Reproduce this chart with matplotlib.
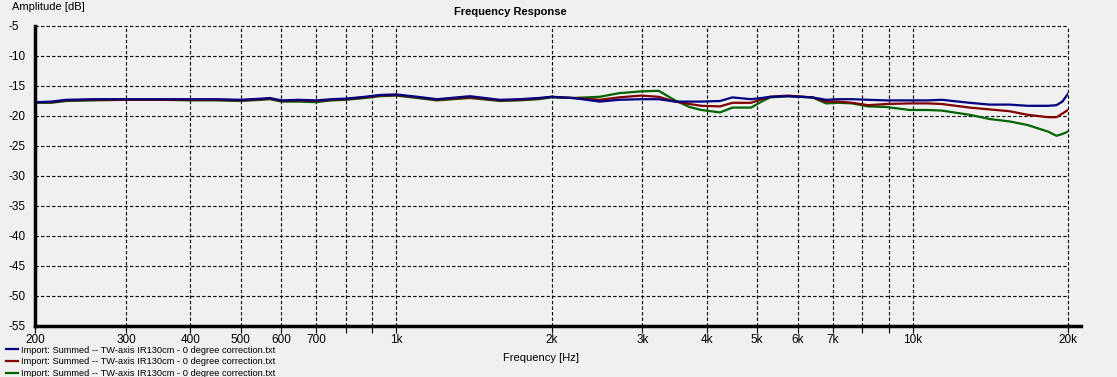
import numpy as np
import matplotlib
matplotlib.use("Agg")
import matplotlib.pyplot as plt
from matplotlib.lines import Line2D

plt.rcParams['font.family'] = ['Liberation Sans', 'DejaVu Sans']

# data (Hz, dB)
freqs = [200, 215, 230, 260, 300, 350, 400, 450, 500, 550, 570, 600, 650, 700,
         750, 800, 870, 930, 1000, 1100, 1200, 1390, 1590, 1730, 1890, 2000,
         2200, 2480, 2700, 2980, 3225, 3470, 3700, 3900, 4240, 4480, 4870,
         5100, 5300, 5730, 6400, 6800, 7200, 7640, 8200, 8900, 9880, 10700,
         11400, 12900, 14100, 15400, 16700, 18300, 19000, 19500, 20000]

blue = [-17.7, -17.6, -17.3, -17.2, -17.2, -17.2, -17.2, -17.2, -17.3, -17.1,
        -17.0, -17.4, -17.3, -17.4, -17.2, -17.1, -16.8, -16.5, -16.4, -16.8,
        -17.2, -16.7, -17.3, -17.2, -17.0, -16.8, -17.0, -17.6, -17.3, -17.2,
        -17.2, -17.6, -17.6, -17.6, -17.5, -16.9, -17.2, -17.0, -16.8, -16.7,
        -16.9, -17.3, -17.2, -17.2, -17.3, -17.4, -17.4, -17.4, -17.3, -17.8,
        -18.1, -18.1, -18.3, -18.3, -18.2, -17.6, -16.3]

red = [-17.7, -17.7, -17.4, -17.3, -17.3, -17.3, -17.3, -17.3, -17.4, -17.2,
       -17.1, -17.5, -17.4, -17.5, -17.3, -17.2, -16.9, -16.6, -16.5, -16.9,
       -17.3, -16.9, -17.4, -17.3, -17.1, -16.8, -17.0, -17.3, -16.9, -16.6,
       -16.8, -17.6, -18.0, -18.3, -18.4, -17.8, -17.8, -17.2, -16.8, -16.6,
       -16.9, -17.6, -17.6, -17.8, -18.2, -18.0, -17.9, -17.9, -18.0, -18.6,
       -18.9, -19.2, -19.8, -20.2, -20.2, -19.6, -19.0]

green = [-17.8, -17.8, -17.5, -17.4, -17.3, -17.3, -17.4, -17.4, -17.5, -17.3,
         -17.2, -17.6, -17.6, -17.7, -17.4, -17.3, -17.0, -16.7, -16.6, -17.0,
         -17.4, -17.0, -17.5, -17.4, -17.2, -16.9, -17.0, -16.8, -16.2, -15.9,
         -15.8, -17.4, -18.5, -19.0, -19.4, -18.6, -18.6, -17.6, -16.9, -16.7,
         -16.9, -17.9, -17.8, -17.9, -18.4, -18.5, -19.0, -19.0, -19.1, -19.8,
         -20.5, -20.9, -21.5, -22.6, -23.3, -23.0, -22.6]

grid_x = [200, 300, 400, 500, 600, 700, 800, 900, 1000, 2000, 3000, 4000, 5000,
          6000, 7000, 8000, 9000, 10000, 20000]
tick_labels = ['200', '300', '400', '500', '600', '700', '', '', '1k', '2k', '3k',
               '4k', '5k', '6k', '7k', '', '', '10k', '20k']
y_ticks = list(range(-55, 0, 5))
legend_label = 'Import: Summed -- TW-axis IR130cm - 0 degree correction.txt'

bg = '#f0f0f0'
fig = plt.figure(figsize=(11.17, 3.77), dpi=100, facecolor=bg)
ax = fig.add_axes([35/1117, 1-326/377, (1068-35)/1117, 300/377], facecolor=bg)

l1, = ax.plot(freqs, blue, color='#000080', lw=1.6)
l2, = ax.plot(freqs, red, color='#800000', lw=1.6)
l3, = ax.plot(freqs, green, color='#006400', lw=1.6)
# green under, blue on top, like the reference
l3.set_zorder(2.1); l2.set_zorder(2.2); l1.set_zorder(2.3)

ax.set_xscale('log')
ax.set_xlim(200, 20000)
ax.set_ylim(-55, -5)
ax.xaxis.set_minor_locator(plt.NullLocator())
ax.set_xticks(grid_x)
ax.set_xticklabels(tick_labels)
ax.set_yticks(y_ticks)
ax.set_yticklabels([str(v) for v in y_ticks], ha='left')

ax.grid(True, color='black', linestyle=(0, (3, 2)), lw=0.8)
ax.set_axisbelow(True)
for g in ax.get_xgridlines() + ax.get_ygridlines():
    g.set_clip_on(False)
for s in ['top', 'right']:
    ax.spines[s].set_visible(False)
ax.spines['left'].set_linewidth(2.5)
ax.spines['bottom'].set_linewidth(2.5)
ax.spines['left'].set_zorder(3)
ax.spines['bottom'].set_zorder(3)
# bottom axis line runs a little past 20k
ax.add_line(Line2D([1.0, 1.013], [0, 0], transform=ax.transAxes, color='black',
                   lw=2.5, clip_on=False))

ax.tick_params(axis='x', direction='out', length=5, width=0.8, pad=1,
               labelsize=8.5, color='black')
ax.tick_params(axis='y', length=0, pad=19.4, labelsize=8.5)

fig.text(510/1117, 1-12/377, 'Frequency Response', ha='center', va='center',
         fontsize=8, fontweight='bold')
fig.text(12/1117, 1-7/377, 'Amplitude [dB]', ha='left', va='center', fontsize=8)
fig.text(541/1117, 1-358/377, 'Frequency [Hz]', ha='center', va='center', fontsize=8)

fig.legend([l1, l2, l3], [legend_label] * 3, loc='lower left',
           bbox_to_anchor=(0.0, -0.018), frameon=False, fontsize=6.7,
           handlelength=1.3, handletextpad=0.35, labelspacing=0.3,
           borderaxespad=0.2)

fig.savefig('out.png', dpi=100, facecolor=bg)
